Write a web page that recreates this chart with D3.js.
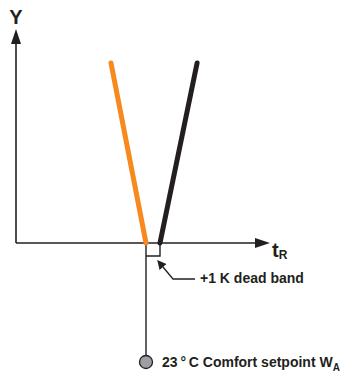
<!DOCTYPE html>
<html>
<head>
<meta charset="utf-8">
<script src="https://cdn.jsdelivr.net/npm/d3@7"></script>
<style>
  body { margin: 0; background: #fff; }
  text { font-family: "Liberation Sans", Arial, sans-serif; font-weight: bold; fill: #231f20; }
</style>
</head>
<body>
<div id="chart"></div>
<script>
// room temperature (K) and output Y (%)
const setpoint = 23;
const deadBand = 1;
const heatingLine = [ { t: 20.5, y: 100 }, { t: 23, y: 0 } ];
const coolingLine = [ { t: 24, y: 0 }, { t: 26.65, y: 100 } ];
const axisLabels = ["Y", "t", "R"];
const notes = ["+1 K dead band", "23\u2009\u00b0\u2009C Comfort setpoint W", "A"];

const width = 342;
const height = 374;

const svg = d3.select("#chart").append("svg")
  .attr("width", width)
  .attr("height", height);

// Scales
const x = d3.scaleLinear().domain([23, 24]).range([146, 160]);
const y = d3.scaleLinear().domain([0, 100]).range([243, 63]);

const xMin = x.invert(16), xMax = x.invert(255);
const yTop = y.invert(44);

const ink = "#231f20";

const defs = svg.append("defs");
defs.append("marker")
  .attr("id", "arrow")
  .attr("viewBox", "0 0 10 10")
  .attr("refX", 0).attr("refY", 5)
  .attr("markerWidth", 10).attr("markerHeight", 9)
  .attr("markerUnits", "userSpaceOnUse")
  .attr("orient", "auto")
  .append("path").attr("d", "M0,0 L10,5 L0,10 Z").attr("fill", ink);

defs.append("marker")
  .attr("id", "axisArrow")
  .attr("viewBox", "0 0 15 10")
  .attr("refX", 0).attr("refY", 5)
  .attr("markerWidth", 15).attr("markerHeight", 10)
  .attr("markerUnits", "userSpaceOnUse")
  .attr("orient", "auto")
  .append("path").attr("d", "M0,0 L15,5 L0,10 Z").attr("fill", ink);

// Axes
svg.append("line")
  .attr("x1", x(xMin)).attr("y1", y(0))
  .attr("x2", x(xMax)).attr("y2", y(0))
  .attr("stroke", ink).attr("stroke-width", 1.6)
  .attr("marker-end", "url(#axisArrow)");

svg.append("line")
  .attr("x1", x(xMin)).attr("y1", y(0))
  .attr("x2", x(xMin)).attr("y2", y(yTop))
  .attr("stroke", ink).attr("stroke-width", 1.6)
  .attr("marker-end", "url(#axisArrow)");

svg.append("text")
  .attr("x", x(xMin)).attr("y", 24)
  .attr("text-anchor", "middle")
  .style("font-size", "20px")
  .text(axisLabels[0]);

const tl = svg.append("text")
  .attr("x", 272).attr("y", 257)
  .style("font-size", "20px");
tl.append("tspan").text(axisLabels[1]);
tl.append("tspan").attr("dy", 2).style("font-size", "12px").text(axisLabels[2]);

// Dead band box and setpoint stem
svg.append("path")
  .attr("d", `M${x(setpoint)},${y(0)} V362 M${x(setpoint)},256 H${x(setpoint + deadBand)} V${y(0)}`)
  .attr("fill", "none").attr("stroke", ink).attr("stroke-width", 1.4);

svg.append("circle")
  .attr("cx", x(setpoint)).attr("cy", 362).attr("r", 6.5)
  .attr("fill", "#9d9fa2").attr("stroke", ink).attr("stroke-width", 1.3);

// Characteristic lines
const line = d3.line().x(d => x(d.t)).y(d => y(d.y));

svg.append("path").datum(heatingLine)
  .attr("d", line)
  .attr("fill", "none").attr("stroke", "#f7891f")
  .attr("stroke-width", 5).attr("stroke-linecap", "round");

svg.append("path").datum(coolingLine)
  .attr("d", line)
  .attr("fill", "none").attr("stroke", ink)
  .attr("stroke-width", 5).attr("stroke-linecap", "round");

// Dead band callout
svg.append("path")
  .attr("d", "M195,279 H173 L163,267")
  .attr("fill", "none").attr("stroke", ink).attr("stroke-width", 1.3)
  .attr("marker-end", "url(#arrow)");

svg.append("text")
  .attr("x", 200).attr("y", 283)
  .style("font-size", "14px")
  .text(notes[0]);

const sp = svg.append("text")
  .attr("x", 162).attr("y", 367)
  .style("font-size", "14px");
sp.append("tspan").text(notes[1]);
sp.append("tspan").attr("dy", 4).style("font-size", "10px").text(notes[2]);
</script>
</body>
</html>
